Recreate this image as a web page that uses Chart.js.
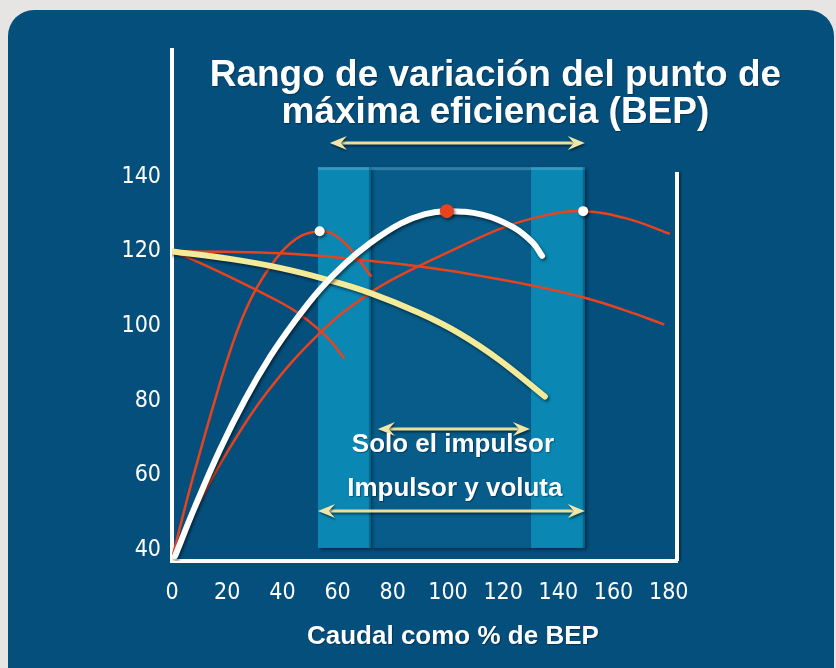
<!DOCTYPE html>
<html>
<head>
<meta charset="utf-8">
<script src="https://cdn.jsdelivr.net/npm/chart.js@4.4.1/dist/chart.umd.min.js"></script>
<style>
  html, body { margin: 0; padding: 0; }
  body { width: 836px; height: 668px; background: #e6e5e3; overflow: hidden; position: relative; }
  .panel { position: absolute; left: 8px; top: 10px; width: 826px; height: 720px; background: #054f7d; border-radius: 26px; }
  canvas { position: absolute; left: 0; top: 0; }
</style>
</head>
<body>
<div class="panel"></div>
<canvas id="bepChart" width="836" height="668"></canvas>
<script>
// axis ticks
const xTicks = [0, 20, 40, 60, 80, 100, 120, 140, 160, 180];
const yTicks = [40, 60, 80, 100, 120, 140];

// white: efficiency, impeller only
const effImpFlow  = [1.1, 8.3, 17.4, 26.5, 35.5, 44.6, 53.6, 62.7, 71.7, 82.6, 91.7, 99.6, 112.7, 123.6, 130.8, 134.1];
const effImpValue = [38.3, 51.5, 66.9, 80.3, 91.7, 101.4, 109.8, 116.7, 122.2, 127.4, 130, 130.8, 129.8, 126.5, 122.3, 118.8];

// yellow: head, impeller only
const headImpFlow  = [0, 21, 39.1, 55.4, 71.7, 89.9, 104.4, 118.8, 135.1];
const headImpValue = [120, 118, 115.6, 112.6, 108.9, 103.4, 97.9, 90.8, 81.1];

// red: efficiency, small volute
const effSmallFlow  = [0.5, 4, 7, 10.5, 15, 20, 25, 30.9, 39.4, 46.6, 53.5, 58, 63.4, 68, 72];
const effSmallValue = [39, 49.3, 57.8, 67.1, 78.7, 90.9, 101.3, 110.5, 119.6, 124.1, 125.4, 124.8, 121.6, 117.5, 113.5];

// red: efficiency, large volute
const effLargeFlow  = [0.5, 10, 20, 34.5, 53.8, 70.6, 82.7, 100.7, 120, 135, 149, 165, 180];
const effLargeValue = [38.5, 52.9, 66.2, 82.3, 98.3, 108.3, 113.6, 120, 126.4, 129.6, 130.8, 128.8, 124.8];

// red: head, large volute
const headLargeFlow  = [0, 20, 39.4, 60, 82.7, 100.7, 115, 130.8, 148.9, 165, 178];
const headLargeValue = [120, 119.9, 119.5, 118.4, 116.6, 114.8, 113, 110.8, 107.7, 104, 100.5];

// red: head, small volute
const headSmallFlow  = [0, 4.4, 20, 39.4, 45.4, 53.8, 58, 62.2];
const headSmallValue = [120, 118.8, 113.5, 106.3, 103.6, 98.7, 95.5, 91.5];

// BEP markers
const bepVoluteFlow  = [53.5, 149];
const bepVoluteValue = [125.4, 130.8];
const bepImpFlow  = [99.6];
const bepImpValue = [130.8];

// shaded ranges (flow %)
const bandEdges = [52.9, 72.1, 130.1, 149.6];
const bandTop = 142.6;
const bandBottom = 40.5;

// arrows: [from, to, level]
const arrowTop = [57.2, 149.6, 149.1];
const arrowImp = [74.6, 129.7, 72.4];
const arrowVol = [52.9, 149.6, 50.4];

const toPoints = (xs, ys) => xs.map((x, i) => ({ x: x, y: ys[i] }));

const RED = '#e8431d';

function curve(xs, ys, color, width, shadow) {
    return {
        data: toPoints(xs, ys),
        borderColor: color,
        borderWidth: width,
        borderCapStyle: 'round',
        borderJoinStyle: 'round',
        pointRadius: 0,
        fill: false,
        tension: 0.4,
        shadow: shadow
    };
}

function markers(xs, ys, color, radius) {
    return {
        data: toPoints(xs, ys),
        showLine: false,
        pointRadius: radius,
        pointBackgroundColor: color,
        pointBorderWidth: 0,
        shadow: true
    };
}

function drawArrow(ctx, x1, x2, y) {
    ctx.save();
    ctx.shadowColor = 'rgba(0,0,0,0.45)';
    ctx.shadowOffsetX = 1;
    ctx.shadowOffsetY = 2;
    ctx.shadowBlur = 2;
    ctx.strokeStyle = '#e9dfa0';
    ctx.lineWidth = 3;
    ctx.beginPath();
    ctx.moveTo(x1 + 8, y);
    ctx.lineTo(x2 - 8, y);
    ctx.stroke();
    ctx.fillStyle = '#efe6a8';
    [[x2, -1], [x1, 1]].forEach(function (h) {
        const tip = h[0], d = h[1];
        ctx.beginPath();
        ctx.moveTo(tip, y);
        ctx.lineTo(tip + d * 17, y - 7);
        ctx.lineTo(tip + d * 11, y);
        ctx.lineTo(tip + d * 17, y + 7);
        ctx.closePath();
        ctx.fill();
    });
    ctx.restore();
}

const shadowPlugin = {
    id: 'lineShadow',
    beforeDatasetDraw(chart, args) {
        const ds = chart.data.datasets[args.index];
        if (!ds.shadow) return;
        const ctx = chart.ctx;
        ctx.save();
        ctx.shadowColor = 'rgba(0,0,0,0.5)';
        ctx.shadowOffsetX = 1.5;
        ctx.shadowOffsetY = 2;
        ctx.shadowBlur = 3;
    },
    afterDatasetDraw(chart, args) {
        const ds = chart.data.datasets[args.index];
        if (ds.shadow) chart.ctx.restore();
    }
};

const decorPlugin = {
    id: 'decor',
    beforeDatasetsDraw(chart) {
        const ctx = chart.ctx;
        const xs = chart.scales.x, ys = chart.scales.y;
        const top = ys.getPixelForValue(bandTop);
        const bottom = ys.getPixelForValue(bandBottom);
        const e = bandEdges.map(v => xs.getPixelForValue(v));
        ctx.save();
        ctx.shadowColor = 'rgba(0,0,0,0.4)';
        ctx.shadowOffsetX = 2;
        ctx.shadowOffsetY = 2;
        ctx.shadowBlur = 3;
        ctx.fillStyle = '#075c89';
        ctx.fillRect(e[1], top, e[2] - e[1], bottom - top);
        ctx.fillStyle = '#0a87b3';
        ctx.fillRect(e[0], top, e[1] - e[0], bottom - top);
        ctx.fillRect(e[2], top, e[3] - e[2], bottom - top);
        ctx.restore();
        ctx.save();
        ctx.fillStyle = 'rgba(120,190,220,0.35)';
        ctx.fillRect(e[0], top, e[3] - e[0], 3);
        ctx.fillStyle = 'rgba(0,40,70,0.35)';
        ctx.fillRect(e[1] - 2, top, 2, bottom - top);
        ctx.fillRect(e[3] - 2, top, 2, bottom - top);
        ctx.restore();
    },
    afterDatasetsDraw(chart) {
        const ctx = chart.ctx;
        const xs = chart.scales.x, ys = chart.scales.y;
        const area = chart.chartArea;

        // right frame line
        ctx.save();
        ctx.shadowColor = 'rgba(0,0,0,0.4)';
        ctx.shadowOffsetX = 2;
        ctx.shadowBlur = 2;
        ctx.strokeStyle = '#ffffff';
        ctx.lineWidth = 4;
        ctx.beginPath();
        ctx.moveTo(area.right, area.bottom);
        ctx.lineTo(area.right, ys.getPixelForValue(141.3));
        ctx.stroke();
        ctx.restore();

        [arrowTop, arrowImp, arrowVol].forEach(function (a) {
            drawArrow(ctx, xs.getPixelForValue(a[0]), xs.getPixelForValue(a[1]), ys.getPixelForValue(a[2]));
        });

        ctx.save();
        ctx.fillStyle = '#ffffff';
        ctx.textAlign = 'center';
        ctx.textBaseline = 'middle';
        ctx.shadowColor = 'rgba(0,0,0,0.35)';
        ctx.shadowOffsetX = 1;
        ctx.shadowOffsetY = 1;
        ctx.shadowBlur = 1;
        ctx.font = 'bold 37px "Liberation Sans", Arial, sans-serif';
        ctx.fillText('Rango de variación del punto de', xs.getPixelForValue(117.2), ys.getPixelForValue(167));
        ctx.fillText('máxima eficiencia (BEP)', xs.getPixelForValue(117.2), ys.getPixelForValue(157.1));
        ctx.font = 'bold 26px "Liberation Sans", Arial, sans-serif';
        ctx.fillText('Solo el impulsor', xs.getPixelForValue(101.8), ys.getPixelForValue(68.1));
        ctx.fillText('Impulsor y voluta', xs.getPixelForValue(102.5), ys.getPixelForValue(56.3));
        ctx.fillText('Caudal como % de BEP', xs.getPixelForValue(101.8), area.bottom + 76);
        ctx.restore();
    }
};

const tickFont = { family: '"Liberation Sans Narrow", "DejaVu Sans Condensed", "Liberation Sans", sans-serif', size: 23 };

const ctx = document.getElementById('bepChart').getContext('2d');

new Chart(ctx, {
    type: 'line',
    data: {
        datasets: [
            markers(bepImpFlow, bepImpValue, RED, 7),
            markers(bepVoluteFlow, bepVoluteValue, '#ffffff', 5),
            curve(effImpFlow, effImpValue, '#ffffff', 6, true),
            curve(headImpFlow, headImpValue, '#f3ea9a', 6, true),
            curve(effSmallFlow, effSmallValue, RED, 2.5, false),
            curve(effLargeFlow, effLargeValue, RED, 2.5, false),
            curve(headLargeFlow, headLargeValue, RED, 2.5, false),
            curve(headSmallFlow, headSmallValue, RED, 2.5, false)
        ]
    },
    options: {
        responsive: false,
        animation: false,
        layout: { padding: { top: 50, right: 159, bottom: 0, left: 0 } },
        plugins: {
            legend: { display: false },
            tooltip: { enabled: false }
        },
        scales: {
            x: {
                type: 'linear',
                min: 0,
                max: 183,
                afterBuildTicks: s => { s.ticks = xTicks.map(v => ({ value: v })); },
                afterFit: s => { s.height = 107; },
                grid: { display: false, drawTicks: false },
                border: { display: true, color: '#ffffff', width: 4 },
                ticks: { color: '#ffffff', font: tickFont, padding: 18, maxRotation: 0, autoSkip: false }
            },
            y: {
                type: 'linear',
                min: 37,
                max: 174,
                afterBuildTicks: s => { s.ticks = yTicks.map(v => ({ value: v })); },
                afterFit: s => { s.width = 172; },
                grid: { display: false, drawTicks: false },
                border: { display: true, color: '#ffffff', width: 4 },
                ticks: { color: '#ffffff', font: tickFont, padding: 11, autoSkip: false }
            }
        }
    },
    plugins: [shadowPlugin, decorPlugin]
});
</script>
</body>
</html>
